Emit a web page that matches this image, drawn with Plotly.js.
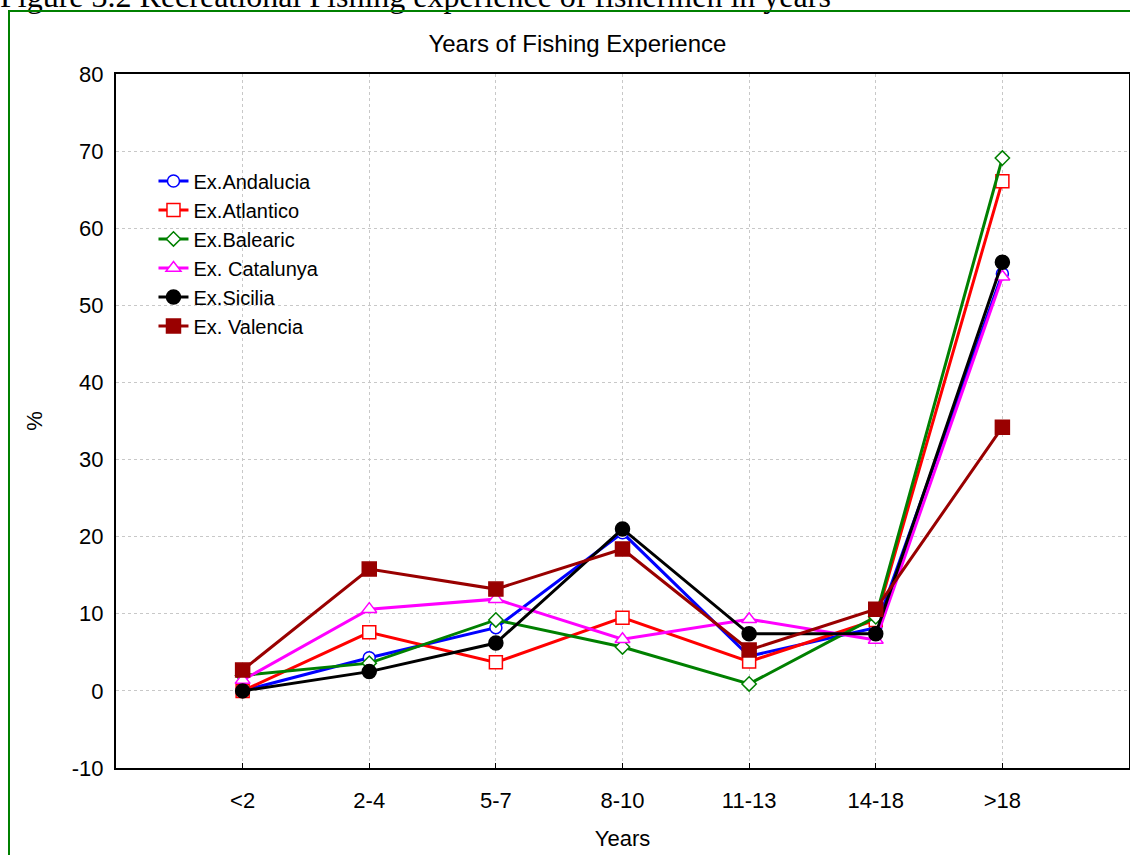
<!DOCTYPE html>
<html>
<head>
<meta charset="utf-8">
<script src="https://cdn.plot.ly/plotly-3.0.1.min.js"></script>
<style>
  html, body { margin: 0; padding: 0; background: #fff; width: 1130px; height: 855px; overflow: hidden; position: relative; }
  #caption { position: absolute; left: 0px; top: -20px; line-height: 32px; font-family: "Liberation Serif", "Times New Roman", serif; font-size: 32px; color: #000; white-space: nowrap; }
  #frame { position: absolute; left: 8px; top: 10px; width: 1200px; height: 900px; border: 2px solid #008000; box-sizing: border-box; }
  #chart { position: absolute; left: 0; top: 0; width: 1130px; height: 855px; }
</style>
</head>
<body>
<div id="caption">Figure 3.2 Recreational Fishing experience of fishermen in years</div>
<div id="frame"></div>
<div id="chart"></div>
<script>
const categories = ["<2", "2-4", "5-7", "8-10", "11-13", "14-18", ">18"];
const seriesNames = ["Ex.Andalucia", "Ex.Atlantico", "Ex.Balearic", "Ex. Catalunya", "Ex.Sicilia", "Ex. Valencia"];
const andalucia = [0, 4.3, 8.2, 20.5, 4.5, 8.2, 54.1];
const atlantico = [0, 7.6, 3.7, 9.5, 3.8, 9.2, 66.1];
const balearic  = [2.0, 3.6, 9.2, 5.7, 0.9, 9.6, 69.1];
const catalunya = [1.4, 10.6, 11.9, 6.7, 9.3, 6.6, 53.7];
const sicilia   = [0, 2.5, 6.2, 21.0, 7.4, 7.4, 55.6];
const valencia  = [2.7, 15.8, 13.2, 18.4, 5.3, 10.6, 34.2];
const yTicks = [-10, 0, 10, 20, 30, 40, 50, 60, 70, 80];
const yTickText = ["-10", "0", "10", "20", "30", "40", "50", "60", "70", "80"];

const styles = [
  {color: "#0000ff", symbol: "circle", fill: "#ffffff", size: 12},
  {color: "#ff0000", symbol: "square", fill: "#ffffff", size: 13},
  {color: "#008000", symbol: "diamond", fill: "#ffffff", size: 11},
  {color: "#ff00ff", symbol: "triangle-up", fill: "#ffffff", size: 13},
  {color: "#000000", symbol: "circle", fill: "#000000", size: 14},
  {color: "#990000", symbol: "square", fill: "#990000", size: 14}
];
const allSeries = [andalucia, atlantico, balearic, catalunya, sicilia, valencia];

const xIdx = categories.map((c, i) => i);
const traces = allSeries.map((vals, k) => ({
  type: "scatter",
  mode: "lines+markers",
  name: seriesNames[k],
  x: xIdx,
  y: vals,
  line: {color: styles[k].color, width: 3},
  marker: {symbol: styles[k].symbol, size: styles[k].size, color: styles[k].fill,
           line: {color: styles[k].color, width: 1.5}},
  cliponaxis: false
}));

const layout = {
  width: 1130, height: 855,
  paper_bgcolor: "rgba(0,0,0,0)",
  plot_bgcolor: "rgba(0,0,0,0)",
  margin: {l: 116, r: 1, t: 74, b: 87},
  font: {family: "Liberation Sans, Arial, sans-serif", size: 23, color: "#000"},
  title: {text: "Years of Fishing Experience", x: 0.511, xanchor: "center", y: 0.949, yanchor: "middle",
          font: {size: 24, family: "Liberation Sans, Arial, sans-serif"}},
  showlegend: true,
  legend: {x: 0.037, y: 0.874, xanchor: "left", yanchor: "top", bgcolor: "rgba(0,0,0,0)",
           font: {size: 20}, tracegroupgap: 0, itemwidth: 30},
  xaxis: {
    range: [-1, 7],
    tickmode: "array", tickvals: xIdx, ticktext: categories,
    showgrid: true, gridcolor: "#c8c8c8", griddash: "dot", gridwidth: 1,
    zeroline: false, showline: true, linecolor: "#000", linewidth: 2, mirror: true,
    ticks: "inside", ticklen: 5, tickcolor: "#000", ticklabelstandoff: 12,
    tickfont: {size: 22},
    title: {text: "Years", font: {size: 22}, standoff: 18}
  },
  yaxis: {
    range: [-10, 80],
    tickmode: "array", tickvals: yTicks, ticktext: yTickText,
    showgrid: true, gridcolor: "#c8c8c8", griddash: "dot", gridwidth: 1,
    zeroline: false, showline: true, linecolor: "#000", linewidth: 2, mirror: true,
    ticks: "", tickfont: {size: 22}, ticklabelstandoff: 6,
    title: {text: "%", font: {size: 22}, standoff: 23}
  }
};

Plotly.newPlot("chart", traces, layout, {displayModeBar: false, staticPlot: true});
</script>
</body>
</html>
